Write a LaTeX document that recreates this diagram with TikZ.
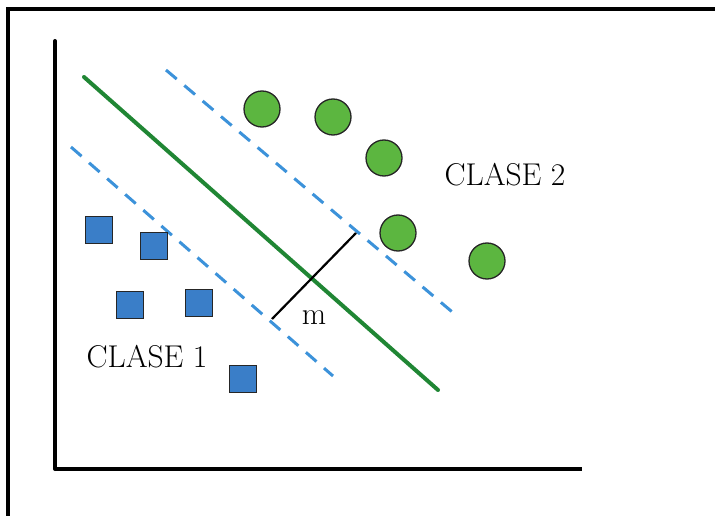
\documentclass[tikz,border=0pt]{standalone}
\begin{document}
\begin{tikzpicture}[x=1pt,y=-1pt,
  ptgreen/.style={circle,draw=black!85,line width=1.3pt,fill=green2,minimum size=36pt,inner sep=0pt},
  ptblue/.style={rectangle,draw=black!85,line width=1.3pt,fill=blue2,minimum size=27pt,inner sep=0pt},
  axisline/.style={line width=4pt,black},
  margin/.style={line width=3pt,color=dashblue,dash pattern=on 14pt off 10pt},
  lbl/.style={font=\fontsize{31.5}{34}\selectfont,inner sep=0pt}]
\definecolor{green2}{RGB}{92,182,64}
\definecolor{blue2}{RGB}{58,126,200}
\definecolor{dashblue}{RGB}{60,146,218}
\definecolor{sepgreen}{RGB}{32,134,52}
\useasboundingbox (0,0) rectangle (715,516);
\fill[white] (0,0) rectangle (715,516);
% frame
\coordinate (fbl) at (7.5,516);
\coordinate (ftl) at (7.5,9);
\coordinate (ftr) at (715,9);
\draw[line width=4pt] (fbl) -- (ftl) -- (ftr);
% axes
\coordinate (ytop) at (55,41);
\coordinate (orig) at (55,469);
\coordinate (xend) at (582,469);
\draw[axisline,line cap=round] (ytop) -- (orig);
\draw[axisline] (55,469) -- (xend);
% margins and separator
\coordinate (u1) at (166,70);
\coordinate (u2) at (457,316);
\coordinate (l1) at (71,147);
\coordinate (l2) at (333,376);
\coordinate (s1) at (84,77);
\coordinate (s2) at (438,390);
\draw[margin] (u1) -- (u2);
\draw[margin] (l1) -- (l2);
\draw[line width=4pt,sepgreen,line cap=round] (s1) -- (s2);
% width m
\coordinate (m1) at (272,319);
\coordinate (m2) at (356,233);
\draw[line width=2.2pt] (m1) -- (m2);
\node[lbl] (mlab) at (314,318) {m};
% class 2
\node[ptgreen] (c1) at (262,109) {};
\node[ptgreen] (c2) at (333,117) {};
\node[ptgreen] (c3) at (384,158) {};
\node[ptgreen] (c4) at (398,233) {};
\node[ptgreen] (c5) at (487,261) {};
% class 1
\node[ptblue] (b1) at (99,230) {};
\node[ptblue] (b2) at (154,246) {};
\node[ptblue] (b3) at (130,305) {};
\node[ptblue] (b4) at (199,303) {};
\node[ptblue] (b5) at (243,379) {};
\node[lbl] (k1) at (147,357) {CLASE 1};
\node[lbl] (k2) at (505,175) {CLASE 2};
\end{tikzpicture}
\end{document}
